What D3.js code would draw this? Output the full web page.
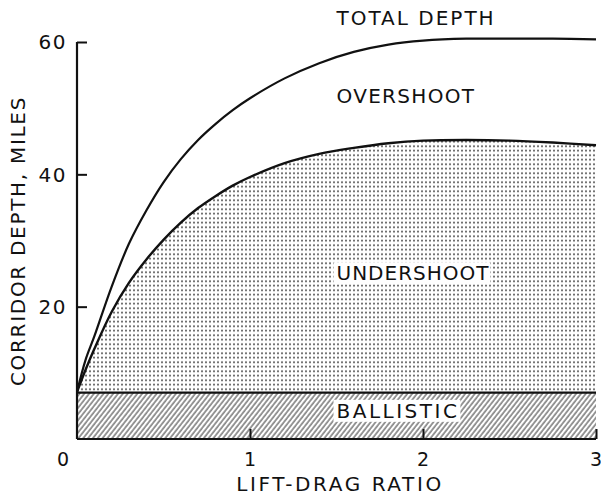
<!DOCTYPE html>
<html>
<head>
<meta charset="utf-8">
<script src="https://cdn.jsdelivr.net/npm/d3@7"></script>
<style>
  html, body { margin: 0; padding: 0; background: #fff; }
  svg { display: block; }
  text { font-family: "DejaVu Sans", sans-serif; fill: #111; }
</style>
</head>
<body>
<svg id="chart" width="601" height="496"></svg>
<script>
// ---- data ----
const liftDragRatio = [0, 0.05, 0.1, 0.2, 0.3, 0.4, 0.5, 0.6, 0.7, 0.8, 0.9, 1.0, 1.2, 1.4, 1.6, 1.8, 2.0, 2.25, 2.5, 2.75, 3.0];
const totalDepth    = [7.1, 12.0, 15.5, 23.0, 29.5, 34.5, 38.8, 42.3, 45.2, 47.6, 49.7, 51.5, 54.5, 56.8, 58.5, 59.6, 60.2, 60.5, 60.5, 60.5, 60.4];
const undershootTop = [7.1, 10.5, 13.6, 19.2, 23.6, 27.1, 30.1, 32.7, 34.9, 36.7, 38.3, 39.6, 41.7, 43.1, 44.0, 44.7, 45.1, 45.2, 45.1, 44.8, 44.4];
const ballisticDepth = 7.0;
const xTicks = [0, 1, 2, 3];
const yTicks = [20, 40, 60];
const regionLabels = ["TOTAL DEPTH", "OVERSHOOT", "UNDERSHOOT", "BALLISTIC"];
const xTitle = "LIFT-DRAG RATIO";
const yTitle = "CORRIDOR DEPTH, MILES";

// ---- layout ----
const svg = d3.select("#chart");
const x = d3.scaleLinear().domain([0, 3]).range([77, 596]);
const y = d3.scaleLinear().domain([0, 60]).range([439, 42]);

const pts = (ys) => liftDragRatio.map((d, i) => [d, ys[i]]);
const curve = d3.curveCatmullRom.alpha(0.5);

// patterns
const defs = svg.append("defs");
const dots = defs.append("pattern").attr("id", "dots")
  .attr("patternUnits", "userSpaceOnUse").attr("width", 4).attr("height", 4.5);
dots.append("rect").attr("x", 1.2).attr("y", 1.4).attr("width", 1.6).attr("height", 1.6).attr("fill", "#2e2e2e");

const hatch = defs.append("pattern").attr("id", "hatch")
  .attr("patternUnits", "userSpaceOnUse").attr("width", 3.8).attr("height", 10)
  .attr("patternTransform", "rotate(38)");
hatch.append("line").attr("x1", 1).attr("x2", 1).attr("y1", 0).attr("y2", 10)
  .attr("stroke", "#444").attr("stroke-width", 1.1);

// undershoot area (dotted)
const underArea = d3.area().curve(curve)
  .x(d => x(d[0])).y0(y(ballisticDepth)).y1(d => y(d[1]));
svg.append("path").datum(pts(undershootTop)).attr("d", underArea).attr("fill", "url(#dots)");

// ballistic area (hatched)
const ballArea = d3.area().x(d => x(d)).y0(y(0)).y1(y(ballisticDepth));
svg.append("path").datum([0, 3]).attr("d", ballArea).attr("fill", "url(#hatch)");

// curves
const line = d3.line().curve(curve).x(d => x(d[0])).y(d => y(d[1]));
svg.append("path").datum(pts(totalDepth)).attr("d", line)
  .attr("fill", "none").attr("stroke", "#111").attr("stroke-width", 2.2);
svg.append("path").datum(pts(undershootTop)).attr("d", line)
  .attr("fill", "none").attr("stroke", "#111").attr("stroke-width", 2.4);
svg.append("line").attr("x1", x(0)).attr("x2", x(3))
  .attr("y1", y(ballisticDepth)).attr("y2", y(ballisticDepth))
  .attr("stroke", "#111").attr("stroke-width", 2.2);

// axes
const yAxis = d3.axisRight(y).tickValues(yTicks).tickSize(10).tickFormat("");
const yG = svg.append("g").attr("transform", `translate(${x(0)},0)`).call(yAxis);
const xAxis = d3.axisTop(x).tickValues(xTicks.filter(d => d > 0)).tickSize(10).tickFormat("");
const xG = svg.append("g").attr("transform", `translate(0,${y(0)})`).call(xAxis);
[yG, xG].forEach(g => {
  g.select(".domain").attr("stroke", "#111").attr("stroke-width", 2.2);
  g.selectAll(".tick line").attr("stroke", "#111").attr("stroke-width", 2);
});
yG.select(".domain").attr("d", `M0,${y(60)}V${y(0)}`);
xG.select(".domain").attr("d", `M${x(0)},0H${x(3)}`);

// tick labels
svg.append("g").selectAll("text").data(yTicks).join("text")
  .attr("x", x(0) - 10).attr("y", d => y(d)).attr("dy", "0.36em")
  .attr("text-anchor", "end").style("font-size", "20px").style("letter-spacing", "1.5px")
  .text(d => d);
svg.append("g").selectAll("text").data(xTicks).join("text")
  .attr("x", d => d === 0 ? x(d) - 14 : x(d)).attr("y", 466)
  .attr("text-anchor", "middle").style("font-size", "19px")
  .text(d => d);

// axis titles
svg.append("text").attr("x", 340).attr("y", 491).attr("text-anchor", "middle")
  .style("font-size", "20px").style("letter-spacing", "2.6px").text(xTitle);
svg.append("text").attr("transform", "translate(25,241) rotate(-90)")
  .attr("text-anchor", "middle").style("font-size", "20px").style("letter-spacing", "1.7px")
  .text(yTitle);

// region labels
const labelPos = [[1.5, 62.6, 2.0, false], [1.5, 50.8, 1.3, false], [1.5, 24.0, 1.0, true], [1.5, 3.2, 2.5, true]];
regionLabels.forEach((lab, i) => {
  const [lx, ly, ls, boxed] = labelPos[i];
  const g = svg.append("g");
  const t = g.append("text").attr("x", x(lx)).attr("y", y(ly))
    .style("font-size", "20px").style("letter-spacing", ls + "px").text(lab);
  if (boxed) {
    const b = t.node().getBBox();
    g.insert("rect", "text").attr("x", b.x - 3).attr("y", b.y + 1)
      .attr("width", b.width + 4).attr("height", b.height - 2).attr("fill", "#fff");
  }
});
</script>
</body>
</html>
